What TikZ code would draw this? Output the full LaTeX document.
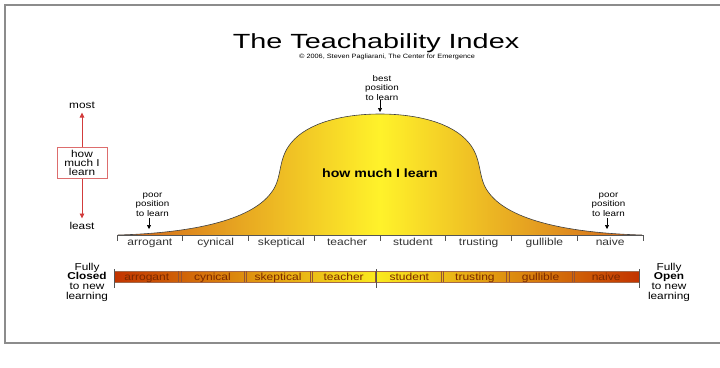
\documentclass[tikz,border=0pt]{standalone}
\usepackage{fontspec}
\setmainfont[FakeStretch=1.18]{Liberation Sans}
\usetikzlibrary{arrows.meta}

\definecolor{framegray}{HTML}{8C8C8C}
\definecolor{bellorange}{HTML}{D2641A}
\definecolor{bellyellow}{HTML}{FFF22A}
\definecolor{barred}{HTML}{C23400}
\definecolor{baryellow}{HTML}{FAEA1E}
\definecolor{meterred}{HTML}{D23C3C}
\definecolor{barink}{HTML}{7A2800}
\definecolor{axisgray}{HTML}{555555}

\tikzset{
  plain/.style={inner sep=0pt, outer sep=0pt},
  axislbl/.style={plain, anchor=base, text=black!80, font=\fontsize{10.2}{12}\selectfont},
  barlbl/.style={plain, anchor=base, text=barink, font=\fontsize{10.2}{12}\selectfont},
  poorlbl/.style={plain, align=center, font=\fontsize{8.3}{9.4}\selectfont},
  sidelbl/.style={plain, align=center, font=\fontsize{10}{9.7}\selectfont},
  meterbox/.style={draw=meterred!75, line width=0.8pt, fill=white, align=center,
    minimum width=50pt, minimum height=31pt, inner sep=0pt,
    font=\fontsize{10}{8.9}\selectfont},
  redarrow/.style={draw=meterred, line width=0.9pt, -{Triangle[length=5pt,width=4.5pt]}},
  blackarrow/.style={draw=black, line width=0.7pt, -{Triangle[length=4pt,width=4pt]}},
  axisline/.style={draw=axisgray, line width=0.7pt},
  sepline/.style={draw=barink!80, line width=0.45pt},
}

\begin{document}
\begin{tikzpicture}[x=1pt,y=-1pt]
\useasboundingbox (0,0) rectangle (720,367);

% outer frame (open on the right)
\draw[framegray, line width=1.5pt] (720,5) -- (5,5) -- (5,343) -- (720,343);

% heading
\node[plain, anchor=base, font=\fontsize{20.5}{24}\selectfont, xscale=1.19] (title) at (376,48.3) {The Teachability Index};
\node[plain, font=\fontsize{6.2}{7}\selectfont] (credit) at (387,57) {\copyright{} 2006, Steven Pagliarani, The Center for Emergence};

% bell curve
\coordinate (bellL) at (118,235);
\coordinate (bellR) at (642,235);
\coordinate (bellTop) at (380,114);
\path[left color=bellorange, right color=bellorange, middle color=bellyellow]
  (bellL) .. controls (190,233) and (250,221) .. (271,193)
  .. controls (283,178) and (277,160) .. (291,143)
  .. controls (308,122) and (345,114) .. (bellTop)
  .. controls (415,114) and (452,122) .. (469,143)
  .. controls (483,160) and (477,178) .. (489,193)
  .. controls (510,221) and (570,233) .. (bellR) -- cycle;
\draw[black!75, line width=0.6pt]
  (bellL) .. controls (190,233) and (250,221) .. (271,193)
  .. controls (283,178) and (277,160) .. (291,143)
  .. controls (308,122) and (345,114) .. (bellTop)
  .. controls (415,114) and (452,122) .. (469,143)
  .. controls (483,160) and (477,178) .. (489,193)
  .. controls (510,221) and (570,233) .. (bellR);
\node[plain, anchor=base, font=\bfseries\fontsize{12}{14}\selectfont] (learnlbl) at (380,177.3) {how much I learn};

% best position marker
\node[poorlbl] (best) at (382,88) {best\\position\\to learn};
\coordinate (bestTip) at (380,112);
\draw[blackarrow] (best.south -| bestTip) -- (bestTip);

% poor position markers
\node[poorlbl] (poorL) at (152.5,204.5) {poor\\position\\to learn};
\coordinate (poorLTip) at (149,229);
\draw[blackarrow] (poorL.south -| poorLTip) ++(0,2) -- (poorLTip);
\node[poorlbl] (poorR) at (608.5,204.5) {poor\\position\\to learn};
\coordinate (poorRTip) at (607,229);
\draw[blackarrow] (poorR.south -| poorRTip) ++(0,2) -- (poorRTip);

% scale under the curve
\draw[axisline] (117,235) -- (643,235);
\foreach \k in {0,...,8} {
  \draw[axisline] (117+65.75*\k,235) -- ++(0,5.5);
}
\foreach \w [count=\i from 0] in {arrogant,cynical,skeptical,teacher,student,trusting,gullible,naive} {
  \node[axislbl] (ax\i) at (117+65.75*\i+32.9,245) {\w};
}

% how-much-I-learn meter
\node[plain, font=\fontsize{10}{12}\selectfont] (most) at (82,105.5) {most};
\node[meterbox] (meter) at (82,163) {how\\much I\\learn};
\node[plain, font=\fontsize{10}{12}\selectfont] (least) at (82,225.5) {least};
\coordinate (mostTip) at (82,112.5);
\coordinate (leastTip) at (82,218.5);
\draw[redarrow] (meter.north) -- (mostTip);
\draw[redarrow] (meter.south) -- (leastTip);

% colour bar
\coordinate (barNW) at (114,271);
\coordinate (barMid) at (376.5,282);
\coordinate (barSE) at (639,282);
\fill[left color=barred, right color=baryellow] (barNW) rectangle (barMid);
\fill[left color=baryellow, right color=barred] (barMid |- barNW) rectangle (barSE);
\draw[barink!70, line width=0.5pt] (barNW) rectangle (barSE);
\foreach \k in {1,2,3,5,6,7} {
  \draw[sepline] (114+65.625*\k-1.1,271) -- ++(0,11);
  \draw[sepline] (114+65.625*\k+1.1,271) -- ++(0,11);
}
\draw[sepline] (376.5-1.1,271) -- ++(0,11);
\draw[axisline] (376.5,269) -- (376.5,287.5);
\draw[axisline] (114,269) -- (114,287.5);
\draw[axisline] (639,269) -- (639,287.5);
\foreach \w [count=\i from 0] in {arrogant,cynical,skeptical,teacher,student,trusting,gullible,naive} {
  \node[barlbl] (bar\i) at (114+65.625*\i+32.8,280) {\w};
}

% ends of the bar
\node[sidelbl] (closed) at (87,282) {Fully\\\textbf{Closed}\\to new\\learning};
\node[sidelbl] (open) at (669,282) {Fully\\\textbf{Open}\\to new\\learning};
\end{tikzpicture}
\end{document}
